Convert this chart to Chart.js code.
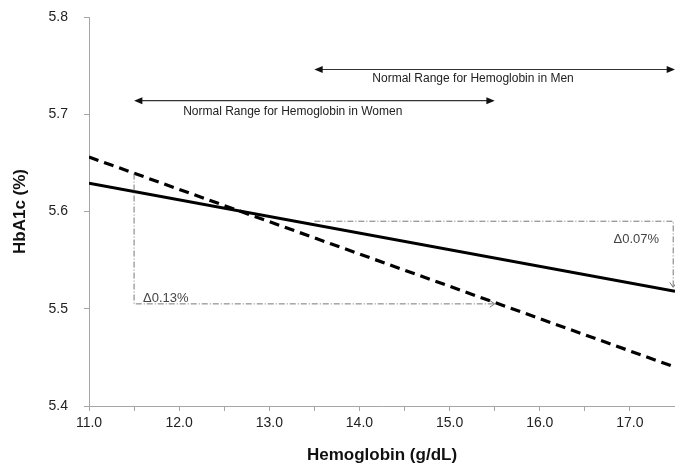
<!DOCTYPE html>
<html lang="en">
<head>
<meta charset="UTF-8"/>
<script src="https://cdn.jsdelivr.net/npm/chart.js@4"></script>
<style>
    html, body { margin: 0; padding: 0; background: #fff; }
    #wrap { width: 675px; height: 470px; }
</style>
</head>
<body>
<div id="wrap"><canvas id="hbChart"></canvas></div>
<script>
// values
const hemoglobin = [11.0, 17.5];
const solidLine = [5.629, 5.518];
const dashedLine = [5.656, 5.440];

// range arrows: [xFrom, xTo, y]
const rangeWomen = [11.5, 15.5, 5.714];
const rangeMen = [13.5, 17.5, 5.746];
const rangeLabels = ['Normal Range for Hemoglobin in Women', 'Normal Range for Hemoglobin in Men'];
const rangeLabelPos = [[13.26, 5.703], [15.26, 5.737]];

// delta guides (dash-dot), each a polyline ending in an arrow head
const deltaWomenX = [11.5, 11.5, 15.5];
const deltaWomenY = [5.639, 5.505, 5.505];
const deltaMenX = [13.5, 17.48, 17.48];
const deltaMenY = [5.590, 5.590, 5.522];
const deltaLabels = ['\u03940.13%', '\u03940.07%'];
const deltaLabelPos = [[11.6, 5.511], [17.07, 5.571]];

const xTicks = [11, 11.5, 12, 12.5, 13, 13.5, 14, 14.5, 15, 15.5, 16, 16.5, 17, 17.5];
const yTicks = [5.4, 5.5, 5.6, 5.7, 5.8];

const FONT = '"Liberation Sans", Arial, sans-serif';

function arrowHead(ctx, x1, y1, x2, y2, size) {
    const a = Math.atan2(y2 - y1, x2 - x1);
    ctx.beginPath();
    ctx.moveTo(x2, y2);
    ctx.lineTo(x2 - size * Math.cos(a - 0.4), y2 - size * Math.sin(a - 0.4));
    ctx.lineTo(x2 - size * Math.cos(a + 0.4), y2 - size * Math.sin(a + 0.4));
    ctx.closePath();
    ctx.fill();
}

const annotations = {
    id: 'annotations',
    afterDatasetsDraw(chart) {
        const {ctx, scales: {x, y}} = chart;
        ctx.save();

        // delta guides
        ctx.strokeStyle = '#777';
        ctx.lineWidth = 1;
        ctx.setLineDash([6, 2, 1, 2]);
        [[deltaWomenX, deltaWomenY], [deltaMenX, deltaMenY]].forEach(([xs, ys]) => {
            ctx.beginPath();
            xs.forEach((v, i) => {
                const px = x.getPixelForValue(v), py = y.getPixelForValue(ys[i]);
                i ? ctx.lineTo(px, py) : ctx.moveTo(px, py);
            });
            ctx.stroke();
            const n = xs.length;
            ctx.setLineDash([]);
            ctx.beginPath();
            const px1 = x.getPixelForValue(xs[n - 2]), py1 = y.getPixelForValue(ys[n - 2]);
            const px2 = x.getPixelForValue(xs[n - 1]), py2 = y.getPixelForValue(ys[n - 1]);
            const a = Math.atan2(py2 - py1, px2 - px1);
            ctx.moveTo(px2 - 6 * Math.cos(a - 0.6), py2 - 6 * Math.sin(a - 0.6));
            ctx.lineTo(px2, py2);
            ctx.lineTo(px2 - 6 * Math.cos(a + 0.6), py2 - 6 * Math.sin(a + 0.6));
            ctx.stroke();
            ctx.setLineDash([6, 2, 1, 2]);
        });
        ctx.setLineDash([]);

        // range arrows
        ctx.strokeStyle = '#333';
        ctx.fillStyle = '#111';
        ctx.lineWidth = 1.2;
        [rangeWomen, rangeMen].forEach(([a, b, v]) => {
            const x1 = x.getPixelForValue(a), x2 = x.getPixelForValue(b), py = y.getPixelForValue(v);
            ctx.beginPath();
            ctx.moveTo(x1 + 4, py);
            ctx.lineTo(x2 - 4, py);
            ctx.stroke();
            arrowHead(ctx, x2 - 10, py, x2, py, 9);
            arrowHead(ctx, x1 + 10, py, x1, py, 9);
        });

        // texts
        ctx.textBaseline = 'middle';
        ctx.textAlign = 'center';
        ctx.fillStyle = '#222';
        ctx.font = '12px ' + FONT;
        rangeLabels.forEach((t, i) => {
            ctx.fillText(t, x.getPixelForValue(rangeLabelPos[i][0]), y.getPixelForValue(rangeLabelPos[i][1]));
        });
        ctx.fillStyle = '#444';
        ctx.font = '13px ' + FONT;
        ctx.textAlign = 'left';
        ctx.fillText(deltaLabels[0], x.getPixelForValue(deltaLabelPos[0][0]), y.getPixelForValue(deltaLabelPos[0][1]));
        ctx.textAlign = 'center';
        ctx.fillText(deltaLabels[1], x.getPixelForValue(deltaLabelPos[1][0]), y.getPixelForValue(deltaLabelPos[1][1]));
        ctx.restore();
    }
};

const config = {
    type: 'line',
    data: {
        datasets: [
            {
                label: 'solid',
                data: hemoglobin.map((h, i) => ({x: h, y: solidLine[i]})),
                borderColor: '#000',
                borderWidth: 3,
                pointRadius: 0
            },
            {
                label: 'dashed',
                data: hemoglobin.map((h, i) => ({x: h, y: dashedLine[i]})),
                borderColor: '#000',
                borderWidth: 3.2,
                borderDash: [10, 6],
                pointRadius: 0
            }
        ]
    },
    options: {
        responsive: true,
        maintainAspectRatio: false,
        animation: false,
        layout: {padding: {top: 17, right: 0, left: 0, bottom: 0}},
        plugins: {legend: {display: false}, tooltip: {enabled: false}},
        scales: {
            x: {
                type: 'linear',
                min: 11,
                max: 17.5,
                afterBuildTicks: s => { s.ticks = xTicks.map(v => ({value: v})); },
                afterFit: s => { s.height = 64; s.paddingRight = 0; },
                ticks: {
                    autoSkip: false,
                    maxRotation: 0,
                    padding: 4,
                    color: '#222',
                    font: {family: FONT, size: 14},
                    callback: v => (Number.isInteger(v) && v < 17.5) ? v.toFixed(1) : ''
                },
                grid: {drawOnChartArea: false, drawTicks: true, tickLength: 5, color: '#a6a6a6'},
                border: {color: '#a6a6a6', width: 1},
                title: {
                    display: true,
                    text: 'Hemoglobin (g/dL)',
                    color: '#111',
                    font: {family: FONT, size: 17, weight: 'bold'},
                    padding: {top: 10}
                }
            },
            y: {
                min: 5.4,
                max: 5.8,
                afterBuildTicks: s => { s.ticks = yTicks.map(v => ({value: v})); },
                afterFit: s => { s.width = 89; s.paddingTop = 0; s.paddingBottom = 0; },
                ticks: {
                    padding: 16,
                    color: '#222',
                    font: {family: FONT, size: 14},
                    callback: v => v.toFixed(1)
                },
                grid: {drawOnChartArea: false, drawTicks: true, tickLength: 5, color: '#a6a6a6'},
                border: {color: '#a6a6a6', width: 1},
                title: {
                    display: true,
                    text: 'HbA1c (%)',
                    color: '#111',
                    font: {family: FONT, size: 17, weight: 'bold'},
                    padding: {top: 10, bottom: 0}
                }
            }
        }
    },
    plugins: [annotations]
};

new Chart(document.getElementById('hbChart'), config);
</script>
</body>
</html>
